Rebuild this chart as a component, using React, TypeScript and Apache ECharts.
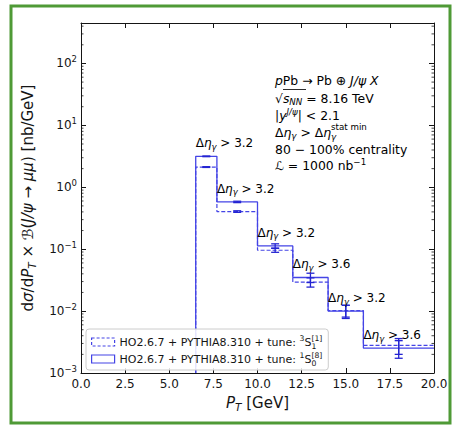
import React, { useEffect, useRef } from "react";
import * as echarts from "echarts";

// ---------------- data ----------------
const binEdges = [6.5, 7.7, 10, 12, 14, 16, 20];
const binCenters = [7.1, 8.85, 11, 13, 15, 18];
// tune 3S1[1] (dashed)
const singletValues = [2.12, 0.405, 0.096, 0.0294, 0.0102, 0.0028];
const singletErrors = [0.03, 0.012, 0.007, 0.005, 0.0022, 0.0008];
// tune 1S0[8] (solid)
const octetValues = [3.16, 0.58, 0.113, 0.0349, 0.01, 0.00253];
const octetErrors = [0.04, 0.015, 0.009, 0.006, 0.0024, 0.0008];
const etaCuts = ["3.2", "3.2", "3.2", "3.6", "3.2", "3.6"];

const xMin = 0;
const xMax = 20;
const xInterval = 2.5;
const yMin = 1e-3;
const yMax = 450;
const yMinorMantissas = [2, 3, 4, 5, 6, 7, 8, 9];
const yDecades = [-3, -2, -1, 0, 1, 2];

const SERIES_SINGLET = "HO2.6.7 + PYTHIA8.310 + tune: 3S1[1]";
const SERIES_OCTET = "HO2.6.7 + PYTHIA8.310 + tune: 1S0[8]";

// ---------------- styles ----------------
const FF = '"DejaVu Sans", sans-serif';
const INK = "#151515";
const BLUE_LINE = "#4444e6";
const BLUE_ERR = "#2424d2";
const GREEN = "#4f9a36";

function richFor(size: number, lh: number, off: number, offX?: number) {
  const s = +(size * 0.7).toFixed(2);
  const h = lh - 2 * off;
  const hx = lh - 2 * (offX ?? off);
  const base = { fontFamily: FF, color: INK, lineHeight: lh };
  return {
    n: { ...base, fontSize: size },
    i: { ...base, fontSize: size, fontStyle: "italic" },
    sub: { ...base, fontSize: s, verticalAlign: "bottom", height: h },
    subi: { ...base, fontSize: s, fontStyle: "italic", verticalAlign: "bottom", height: h },
    sup: { ...base, fontSize: s, verticalAlign: "top", height: h },
    supi: { ...base, fontSize: s, fontStyle: "italic", verticalAlign: "top", height: h },
    sub0: { ...base, fontSize: s, verticalAlign: "bottom", height: hx, width: 0 },
    sub0i: { ...base, fontSize: s, fontStyle: "italic", verticalAlign: "bottom", height: hx, width: 0 },
    supx: { ...base, fontSize: s, verticalAlign: "top", height: hx },
  };
}

function stepPoints(vals: number[]) {
  const pts: number[][] = [[binEdges[0], yMin]];
  vals.forEach((v, i) => {
    pts.push([binEdges[i], v]);
    pts.push([binEdges[i + 1], v]);
  });
  return pts;
}

function errorSeries(vals: number[], errs: number[]) {
  return {
    type: "custom",
    silent: true,
    xAxisIndex: 0,
    yAxisIndex: 0,
    data: binCenters.map((c, i) => [c, vals[i], errs[i]]),
    renderItem: (_p: any, api: any) => {
      const x = api.value(0);
      const v = api.value(1);
      const e = api.value(2);
      const top = api.coord([x, v + e]);
      const bot = api.coord([x, v - e]);
      const hw = 4;
      const st = { stroke: BLUE_ERR, lineWidth: 1.3 };
      return {
        type: "group",
        children: [
          { type: "line", shape: { x1: top[0], y1: top[1], x2: bot[0], y2: bot[1] }, style: st },
          { type: "line", shape: { x1: top[0] - hw, y1: top[1], x2: top[0] + hw, y2: top[1] }, style: st },
          { type: "line", shape: { x1: bot[0] - hw, y1: bot[1], x2: bot[0] + hw, y2: bot[1] }, style: st },
        ],
      };
    },
    z: 5,
  };
}

const minorTickValues: number[] = [];
yDecades.forEach((d) => {
  yMinorMantissas.forEach((m) => {
    const v = m * Math.pow(10, d);
    if (v > yMin && v < yMax) minorTickValues.push(v);
  });
});

function expLabel(e: number) {
  return e < 0 ? "\u2212" + -e : String(e);
}

export default function App() {
  const ref = useRef<HTMLDivElement>(null);
  useEffect(() => {
    if (!ref.current) return;
    const chart = echarts.init(ref.current, undefined, { renderer: "svg" });
    const annRich = richFor(12, 16, 3.5);
    const infoRich = richFor(12.4, 18, 3.5, 4.6);
    const legendRich = richFor(11, 14, 4, 4);
    const nameRich = richFor(15, 20, 4);

    const axisLine = { show: true, onZero: false, lineStyle: { color: INK, width: 1 } };
    const axisTick = { show: true, inside: true, length: 5, lineStyle: { color: INK, width: 1 } };

    const infoLines = [
      { y: 80, t: "{i|p}{n|Pb \u2192 Pb \u2295 }{i|J/\u03c8 X}" },
      { y: 98, t: "{n|\u221a}{i|s}{subi|NN}{n| = 8.16 TeV}" },
      { y: 115, t: "{n||}{i|y}{supi|J/\u03c8}{n|| < 2.1}" },
      { y: 132, t: "{n|\u0394}{i|\u03b7}{subi|\u03b3}{n| > \u0394}{i|\u03b7}{sub0i|\u03b3}{supx|stat min}" },
      { y: 149, t: "{n|80 \u2212 100% centrality}" },
      { y: 165, t: "{i|\u2112}{n| = 1000 nb}{sup|\u22121}" },
    ];

    const option: any = {
      animation: false,
      backgroundColor: "#ffffff",
      grid: { left: 81, top: 23, width: 353, height: 350 },
      legend: {
        left: 86,
        top: 329,
        orient: "vertical",
        itemWidth: 23,
        itemHeight: 8,
        itemGap: 1,
        padding: [5, 6, 3, 5],
        borderColor: "#cccccc",
        borderWidth: 1,
        borderRadius: 3,
        backgroundColor: "rgba(255,255,255,0.85)",
        textStyle: { fontSize: 11, fontFamily: FF, color: INK, lineHeight: 14, rich: legendRich },
        formatter: (name: string) =>
          name === SERIES_SINGLET
            ? "{n|HO2.6.7 + PYTHIA8.310 + tune: }{sup|3}{n|S}{sub0|1}{supx|[1]}"
            : "{n|HO2.6.7 + PYTHIA8.310 + tune: }{sup|1}{n|S}{sub0|0}{supx|[8]}",
        data: [
          {
            name: SERIES_SINGLET,
            icon: "rect",
            itemStyle: { color: "transparent", borderColor: BLUE_LINE, borderWidth: 1.2, borderType: [3, 2] },
          },
          {
            name: SERIES_OCTET,
            icon: "rect",
            itemStyle: { color: "transparent", borderColor: BLUE_LINE, borderWidth: 1.2, borderType: "solid" },
          },
        ],
      },
      xAxis: [
        {
          type: "value",
          min: xMin,
          max: xMax,
          interval: xInterval,
          position: "bottom",
          axisLine,
          axisTick,
          splitLine: { show: false },
          axisLabel: {
            formatter: (v: number) => v.toFixed(1),
            fontSize: 12,
            fontFamily: FF,
            color: INK,
            margin: 5,
          },
          name: "{i|P}{subi|T}{n| [GeV]}",
          nameLocation: "middle",
          nameGap: 20,
          nameTextStyle: { rich: nameRich, verticalAlign: "top" },
        },
        {
          type: "value",
          min: xMin,
          max: xMax,
          interval: xInterval,
          position: "top",
          axisLine,
          axisTick,
          splitLine: { show: false },
          axisLabel: { show: false },
        },
      ],
      yAxis: [
        {
          type: "log",
          logBase: 10,
          min: yMin,
          max: yMax,
          position: "left",
          axisLine,
          axisTick,
          splitLine: { show: false },
          axisLabel: {
            margin: 4,
            formatter: (v: number) => {
              const l = Math.log10(v);
              const e = Math.round(l);
              if (Math.abs(l - e) > 1e-6) return "";
              return "{b|10}{s|" + expLabel(e) + "}";
            },
            rich: {
              b: { fontSize: 12, fontFamily: FF, color: INK, lineHeight: 18 },
              s: { fontSize: 8.5, fontFamily: FF, color: INK, lineHeight: 18, verticalAlign: "top", height: 9 },
            },
          },
          name: "{n|d}{i|\u03c3}{n|/d}{i|P}{subi|T}{n| \u00d7 \u212c(}{i|J/\u03c8}{n| \u2192 }{i|\u03bc\u03bc}{n|) [nb/GeV]}",
          nameLocation: "middle",
          nameRotate: 90,
          nameGap: 37,
          nameTextStyle: { rich: nameRich },
        },
        {
          type: "log",
          logBase: 10,
          min: yMin,
          max: yMax,
          position: "right",
          axisLine,
          axisTick,
          splitLine: { show: false },
          axisLabel: { show: false },
        },
      ],
      series: [
        {
          name: SERIES_SINGLET,
          type: "line",
          xAxisIndex: 0,
          yAxisIndex: 0,
          data: stepPoints(singletValues),
          showSymbol: false,
          symbol: "none",
          lineStyle: { color: BLUE_LINE, width: 1.2, type: [4, 2] },
          itemStyle: { color: BLUE_LINE },
          z: 3,
        },
        {
          name: SERIES_OCTET,
          type: "line",
          xAxisIndex: 0,
          yAxisIndex: 0,
          data: stepPoints(octetValues),
          showSymbol: false,
          symbol: "none",
          lineStyle: { color: BLUE_LINE, width: 1.3, type: "solid" },
          itemStyle: { color: BLUE_LINE },
          z: 3,
        },
        errorSeries(singletValues, singletErrors),
        errorSeries(octetValues, octetErrors),
        {
          type: "custom",
          silent: true,
          xAxisIndex: 0,
          yAxisIndex: 0,
          data: octetValues.map((v, i) => [binEdges[i], v]),
          renderItem: (params: any, api: any) => {
            const p = api.coord([api.value(0), api.value(1)]);
            return {
              type: "text",
              x: p[0],
              y: p[1] - 13,
              style: {
                text:
                  "{n|\u0394}{i|\u03b7}{subi|\u03b3}{n| > " + etaCuts[params.dataIndex] + "}",
                rich: annRich,
                align: "left",
                verticalAlign: "middle",
              },
            };
          },
          z: 6,
        },
        {
          type: "custom",
          silent: true,
          xAxisIndex: 0,
          yAxisIndex: 0,
          data: minorTickValues.map((v) => [xMin, v]),
          renderItem: (_p: any, api: any) => {
            const v = api.value(1);
            const l = api.coord([xMin, v]);
            const r = api.coord([xMax, v]);
            const st = { stroke: INK, lineWidth: 0.8 };
            return {
              type: "group",
              children: [
                { type: "line", shape: { x1: l[0], y1: l[1], x2: l[0] + 2.5, y2: l[1] }, style: st },
                { type: "line", shape: { x1: r[0], y1: r[1], x2: r[0] - 2.5, y2: r[1] }, style: st },
              ],
            };
          },
          z: 4,
        },
      ],
      graphic: [
        {
          type: "rect",
          shape: { x: 11, y: 6, width: 439, height: 417 },
          style: { fill: "none", stroke: GREEN, lineWidth: 3 },
          silent: true,
        },
        ...infoLines.map((ln) => ({
          type: "text",
          x: 275,
          y: ln.y,
          silent: true,
          style: { text: ln.t, rich: infoRich, align: "left", verticalAlign: "middle" },
        })),
        {
          type: "line",
          shape: { x1: 283, y1: 89.5, x2: 306, y2: 89.5 },
          style: { stroke: INK, lineWidth: 0.9 },
          silent: true,
        },
      ],
    };
    chart.setOption(option);
    return () => chart.dispose();
  }, []);
  return (
    <div
      ref={ref}
      style={{ position: "fixed", left: 0, top: 0, width: 454, height: 425, background: "#fff" }}
    />
  );
}
